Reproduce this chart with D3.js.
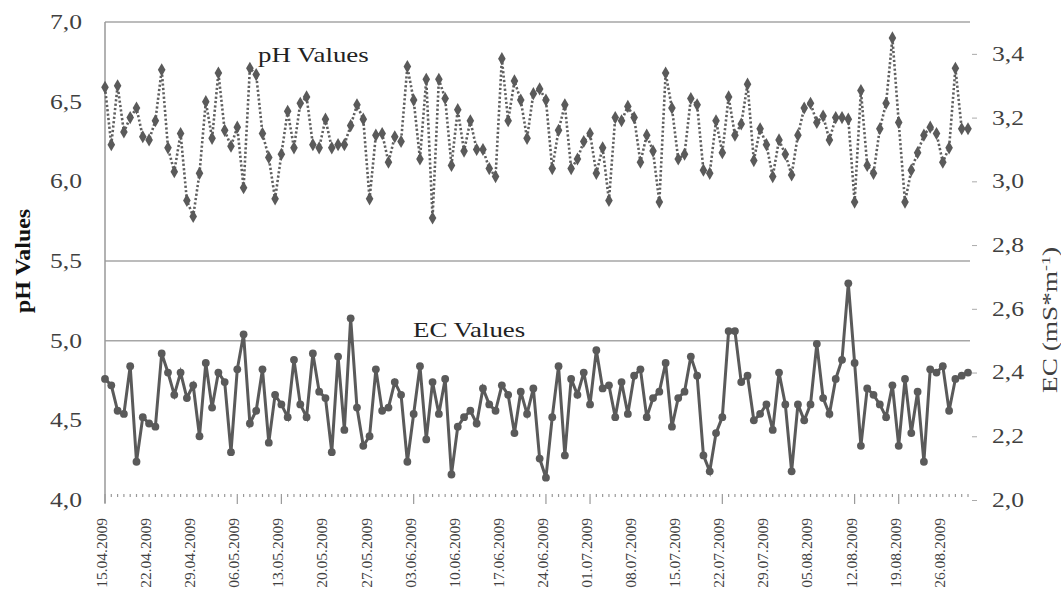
<!DOCTYPE html>
<head>
    <meta charset=utf-8>
    <title>pH and EC values</title>
    <script src="https://d3js.org/d3.v7.min.js"></script>
</head>
<style>
    body { margin: 0; background: #ffffff; }
    text {
        font-family: "Liberation Serif", "DejaVu Serif", serif;
        fill: #404040;
    }
    .grid { stroke: #a6a6a6; stroke-width: 1.5; }
    .ph_line { fill: none; stroke: #5f5f5f; stroke-width: 2.6; stroke-dasharray: 2.2,2.2; }
    .ec_line { fill: none; stroke: #5a5a5a; stroke-width: 3; }
    .mark { fill: #5a5a5a; }
</style>
<body>
<div id="chart"></div>
<script type="text/javascript">
    // daily samples 15.04.2009 - 30.08.2009
    var start_day = new Date(2009, 3, 15),
        end_day = new Date(2009, 7, 31);

    var tick_labels = ["15.04.2009", "22.04.2009", "29.04.2009", "06.05.2009", "13.05.2009",
        "20.05.2009", "27.05.2009", "03.06.2009", "10.06.2009", "17.06.2009",
        "24.06.2009", "01.07.2009", "08.07.2009", "15.07.2009", "22.07.2009",
        "29.07.2009", "05.08.2009", "12.08.2009", "19.08.2009", "26.08.2009"];

    var major_ticks = [0, 21, 28, 49, 70, 77, 98, 119, 126];

    var ph_values = [
        6.59, 6.23, 6.60, 6.31, 6.40, 6.46, 6.28, 6.26, 6.38, 6.70, 6.21, 6.06, 6.30, 5.88, 5.78, 6.05,
        6.50, 6.27, 6.68, 6.32, 6.22, 6.34, 5.96, 6.71, 6.67, 6.30, 6.15, 5.89, 6.17, 6.44, 6.21, 6.49, 6.53,
        6.23, 6.21, 6.39, 6.21, 6.23, 6.23, 6.35, 6.48, 6.39, 5.89, 6.29, 6.30, 6.12, 6.28, 6.25, 6.72,
        6.51, 6.14, 6.64, 5.77, 6.64, 6.52, 6.10,
        6.45, 6.19, 6.38, 6.20, 6.20, 6.08, 6.03, 6.77, 6.38, 6.63, 6.51, 6.27, 6.55, 6.58, 6.51, 6.08,
        6.32, 6.48, 6.08, 6.14, 6.25, 6.30, 6.05,
        6.21, 5.88, 6.40, 6.38, 6.47, 6.40, 6.12, 6.29, 6.19, 5.87, 6.68, 6.46, 6.14, 6.17, 6.52, 6.48,
        6.07, 6.05, 6.38, 6.18, 6.53, 6.29, 6.36,
        6.61, 6.13, 6.33, 6.23, 6.03, 6.26, 6.17, 6.04, 6.29, 6.46, 6.49, 6.37, 6.41, 6.26, 6.40, 6.40,
        6.39, 5.87, 6.57, 6.10, 6.05, 6.33,
        6.49, 6.90, 6.37, 5.87, 6.07, 6.18, 6.29, 6.34, 6.30, 6.12, 6.21, 6.71, 6.33, 6.33];

    var ec_values = [
        2.38, 2.36, 2.28, 2.27, 2.42, 2.12, 2.26, 2.24, 2.23, 2.46, 2.40, 2.33, 2.40, 2.32, 2.36, 2.20,
        2.43, 2.29, 2.40, 2.37, 2.15, 2.41, 2.52, 2.24, 2.28, 2.41, 2.18, 2.33, 2.30, 2.26, 2.44, 2.30, 2.26,
        2.46, 2.34, 2.32, 2.15, 2.45, 2.22, 2.57, 2.29, 2.17, 2.20, 2.41, 2.28, 2.29, 2.37, 2.33, 2.12,
        2.27, 2.42, 2.19, 2.37, 2.27, 2.38, 2.08,
        2.23, 2.26, 2.28, 2.24, 2.35, 2.30, 2.28, 2.36, 2.33, 2.21, 2.34, 2.27, 2.35, 2.13, 2.07, 2.26,
        2.42, 2.14, 2.38, 2.33, 2.40, 2.30, 2.47,
        2.35, 2.36, 2.26, 2.37, 2.27, 2.39, 2.41, 2.26, 2.32, 2.34, 2.43, 2.23, 2.32, 2.34, 2.45, 2.39,
        2.14, 2.09, 2.21, 2.26, 2.53, 2.53, 2.37,
        2.39, 2.25, 2.27, 2.30, 2.22, 2.40, 2.30, 2.09, 2.30, 2.25, 2.30, 2.49, 2.32, 2.27, 2.38, 2.44,
        2.68, 2.43, 2.17, 2.35, 2.33, 2.30,
        2.26, 2.36, 2.17, 2.38, 2.21, 2.34, 2.12, 2.41, 2.40, 2.42, 2.28, 2.38, 2.39, 2.40];

    var grid_values = [7.0, 5.5, 5.0];

    var svg_dx = 1061,
        svg_dy = 603,
        plot = {left: 105, right: 970, top: 22, bottom: 500},
        stretch = 1.28;   // the original text is a bit wide

    var formatday = d3.timeFormat("%d.%m.%Y"),
        comma = d3.formatLocale({decimal: ",", thousands: ".", grouping: [3], currency: ["", ""]}).format(".1f");

    var days = d3.timeDay.range(start_day, end_day).map(formatday);

    var x = d3.scalePoint().domain(days).range([plot.left, 968]),
        y_ph = d3.scaleLinear().domain([4, 7]).range([plot.bottom, plot.top]),
        y_ec = d3.scaleLinear().domain([2, 3.5]).range([plot.bottom, plot.top]);

    var svg = d3.select("#chart")
        .append("svg")
        .attr("width", svg_dx)
        .attr("height", svg_dy);

    // grid lines
    svg.append("g")
        .selectAll("line")
        .data(grid_values)
        .enter()
        .append("line")
        .attr("class", "grid")
        .attr("x1", plot.left)
        .attr("x2", plot.right)
        .attr("y1", d => y_ph(d))
        .attr("y2", d => y_ph(d));

    // left axis
    var axis_l = svg.append("g")
        .attr("transform", "translate(" + plot.left + ",0)")
        .call(d3.axisLeft(y_ph).ticks(6).tickSize(0).tickPadding(23).tickFormat(comma));
    axis_l.select(".domain").attr("stroke", "#999").attr("stroke-width", 1.5)
        .attr("d", "M0," + plot.top + "V503");
    axis_l.selectAll("text")
        .attr("x", 0)
        .attr("transform", "translate(-23,0) scale(" + stretch + ",1)")
        .style("font-size", "20px")
        .attr("fill", "#505050");

    svg.append("text")
        .attr("transform", "translate(30,261) rotate(-90)")
        .attr("text-anchor", "middle")
        .attr("textLength", 104)
        .attr("lengthAdjust", "spacingAndGlyphs")
        .style("font-size", "21px")
        .style("font-weight", "bold")
        .style("fill", "#111")
        .text("pH Values");

    // right axis
    var axis_r = svg.append("g")
        .attr("transform", "translate(" + plot.right + ",0)")
        .call(d3.axisRight(y_ec).ticks(8).tickSize(7).tickPadding(15).tickFormat(comma));
    axis_r.select(".domain").remove();
    axis_r.selectAll("line").attr("stroke", "#aaa").attr("x1", 2);
    axis_r.selectAll("text")
        .attr("x", 0)
        .attr("transform", "translate(22,0) scale(" + stretch + ",1)")
        .style("font-size", "20px")
        .attr("fill", "#505050");

    var ec_title = svg.append("text")
        .attr("transform", "translate(1057,320) rotate(-90)")
        .attr("text-anchor", "middle")
        .attr("textLength", 146)
        .attr("lengthAdjust", "spacingAndGlyphs")
        .style("font-size", "20px");
    ec_title.append("tspan").text("EC (mS*m");
    ec_title.append("tspan").attr("dy", -7).style("font-size", "13px").text("-1");
    ec_title.append("tspan").attr("dy", 7).text(")");

    // bottom axis: labels every week, small tick for every day
    var axis_b = svg.append("g")
        .attr("transform", "translate(0," + plot.bottom + ")")
        .call(d3.axisBottom(x).tickValues(tick_labels).tickSize(0));
    axis_b.select(".domain").remove();
    axis_b.selectAll("text")
        .attr("transform", "rotate(-90)")
        .attr("text-anchor", "end")
        .attr("x", -18)
        .attr("y", -4)
        .attr("dy", "0.35em")
        .style("font-size", "15.5px")
        .attr("fill", "#333");

    axis_b.selectAll(".day_tick")
        .data(days)
        .enter()
        .append("line")
        .attr("class", "day_tick")
        .attr("x1", d => x(d))
        .attr("x2", d => x(d))
        .attr("y1", -6)
        .attr("y2", (d, i) => major_ticks.indexOf(i) >= 0 ? 4 : -3)
        .attr("stroke", "#999")
        .attr("stroke-width", 1.2);

    // pH series
    var ph_line = d3.line()
        .x((d, i) => x(days[i]))
        .y(d => y_ph(d));

    svg.append("path")
        .datum(ph_values)
        .attr("class", "ph_line")
        .attr("d", ph_line);

    svg.append("g")
        .selectAll("path")
        .data(ph_values)
        .enter()
        .append("path")
        .attr("class", "mark")
        .attr("d", d3.symbol().type(d3.symbolDiamond).size(50))
        .attr("transform", (d, i) => "translate(" + x(days[i]) + "," + y_ph(d) + ")");

    // EC series
    var ec_line = d3.line()
        .x((d, i) => x(days[i]))
        .y(d => y_ec(d));

    svg.append("path")
        .datum(ec_values)
        .attr("class", "ec_line")
        .attr("d", ec_line);

    svg.append("g")
        .selectAll("circle")
        .data(ec_values)
        .enter()
        .append("circle")
        .attr("class", "mark")
        .attr("r", 3.9)
        .attr("cx", (d, i) => x(days[i]))
        .attr("cy", d => y_ec(d));

    // series names inside the plot
    svg.append("text")
        .attr("transform", "translate(258,62) scale(" + stretch + ",1)")
        .style("font-size", "21px")
        .style("fill", "#222")
        .text("pH Values");

    svg.append("text")
        .attr("transform", "translate(413,337) scale(" + stretch + ",1)")
        .style("font-size", "21px")
        .style("fill", "#222")
        .text("EC Values");
</script>
</body>
